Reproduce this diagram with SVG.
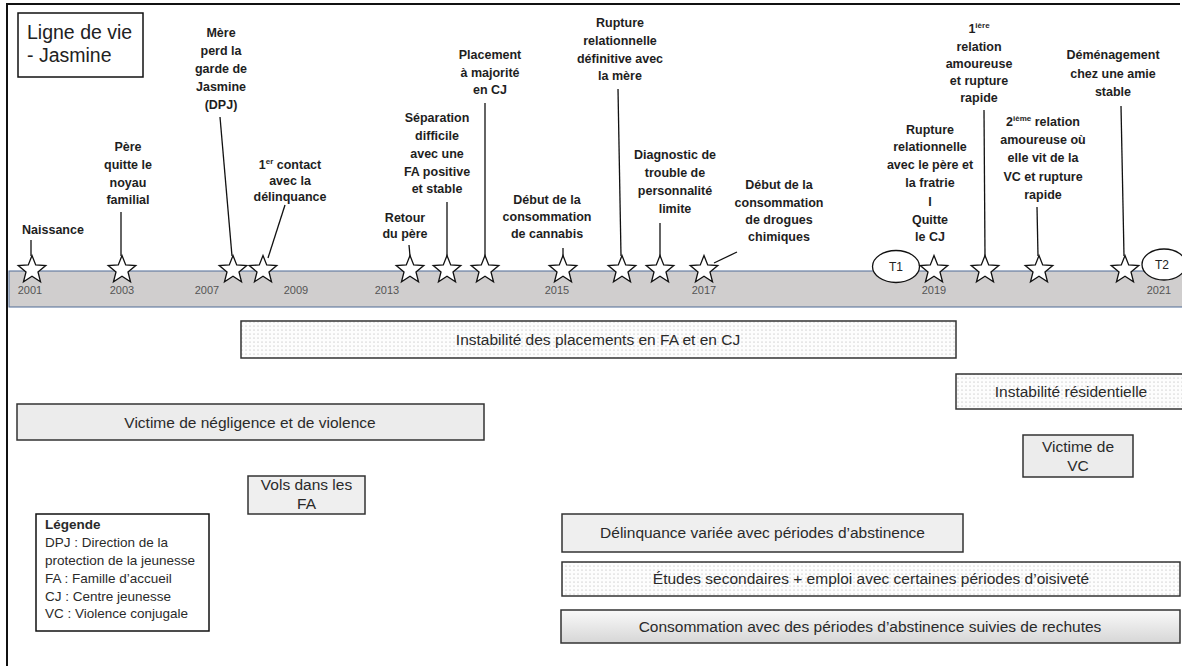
<svg xmlns="http://www.w3.org/2000/svg" width="1182" height="666" viewBox="0 0 1182 666">
<style>
.lbl{font-family:"Liberation Sans",Arial,sans-serif;font-weight:bold;font-size:12.5px;fill:#1e1e1e;text-anchor:middle}
.yr{font-family:"Liberation Sans",Arial,sans-serif;font-size:11px;fill:#555;text-anchor:middle}
.box{stroke:#333;stroke-width:1.5}
.bt{font-family:"Liberation Sans",Arial,sans-serif;font-size:15.5px;fill:#2a2a2a;text-anchor:middle}
.lg{font-family:"Liberation Sans",Arial,sans-serif;font-size:13.5px;fill:#2a2a2a}
.star{fill:#fff;stroke:#111;stroke-width:1.3;stroke-linejoin:miter}
.conn line{stroke:#111;stroke-width:1.3}
.sup{font-size:8px}
</style>
<defs>
<pattern id="dots" width="4" height="4" patternUnits="userSpaceOnUse">
<rect width="4" height="4" fill="#fdfdfd"/>
<circle cx="2" cy="2" r="0.55" fill="#a8a8a8"/>
</pattern>
<linearGradient id="grad" x1="0" y1="0" x2="0" y2="1">
<stop offset="0" stop-color="#fafafa"/>
<stop offset="1" stop-color="#d6d6d6"/>
</linearGradient>
<path id="star" d="M0,-14.5 L3.7,-5.1 L13.79,-4.48 L5.99,1.95 L8.52,11.73 L0,6.3 L-8.52,11.73 L-5.99,1.95 L-13.79,-4.48 L-3.7,-5.1 Z"/>
</defs>
<rect width="1182" height="666" fill="#fff"/>
<path d="M7,666 V4 H1180" fill="none" stroke="#111" stroke-width="2"/>

<g id="title">
<rect x="18" y="13" width="125" height="64" fill="#fff" stroke="#111" stroke-width="1.5"/>
<text x="27" y="39" font-family="Liberation Sans,Arial,sans-serif" font-size="19.5" fill="#222">Ligne de vie</text>
<text x="27" y="62" font-family="Liberation Sans,Arial,sans-serif" font-size="19.5" fill="#222">- Jasmine</text>
</g>

<g id="timeline">
<rect x="9" y="271" width="1180" height="36" fill="#d0cece" stroke="#4f6a95" stroke-width="1"/>
<text class="yr" x="30" y="294">2001</text>
<text class="yr" x="122" y="294">2003</text>
<text class="yr" x="207" y="294">2007</text>
<text class="yr" x="296" y="294">2009</text>
<text class="yr" x="387" y="294">2013</text>
<text class="yr" x="557" y="294">2015</text>
<text class="yr" x="704" y="294">2017</text>
<text class="yr" x="934" y="294">2019</text>
<text class="yr" x="1159" y="294">2021</text>
</g>

<g class="conn" id="connectors">
<line x1="31" y1="240" x2="31" y2="256"/>
<line x1="121" y1="212" x2="121" y2="256"/>
<line x1="220" y1="117" x2="232" y2="256"/>
<line x1="285" y1="205" x2="268" y2="258"/>
<line x1="409" y1="245" x2="410" y2="256"/>
<line x1="447" y1="202" x2="447" y2="256"/>
<line x1="485" y1="103" x2="485" y2="256"/>
<line x1="563" y1="248" x2="563" y2="256"/>
<line x1="618" y1="89" x2="621" y2="256"/>
<line x1="660" y1="223" x2="660" y2="256"/>
<line x1="737" y1="252" x2="714" y2="263"/>
<line x1="984" y1="110" x2="985" y2="256"/>
<line x1="1037" y1="207" x2="1038" y2="256"/>
<line x1="1121" y1="106" x2="1124" y2="256"/>
</g>

<g id="ev-naissance"><use href="#star" class="star" x="32" y="270"/>
<text class="lbl" x="53" y="234">Naissance</text></g>
<g id="ev-pere-quitte"><use href="#star" class="star" x="122" y="270"/>
<text class="lbl" x="128" y="151">Père</text><text class="lbl" x="128" y="169">quitte le</text><text class="lbl" x="128" y="187">noyau</text><text class="lbl" x="128" y="204">familial</text></g>
<g id="ev-mere-garde"><use href="#star" class="star" x="233" y="270"/>
<text class="lbl" x="221" y="37">Mère</text><text class="lbl" x="221" y="55">perd la</text><text class="lbl" x="221" y="73">garde de</text><text class="lbl" x="221" y="91">Jasmine</text><text class="lbl" x="221" y="109">(DPJ)</text></g>
<g id="ev-contact"><use href="#star" class="star" x="263" y="270"/>
<text class="lbl" x="290" y="169">1<tspan class="sup" dy="-5">er</tspan><tspan dy="5"> contact</tspan></text><text class="lbl" x="290" y="185">avec la</text><text class="lbl" x="290" y="201">délinquance</text></g>
<g id="ev-retour"><use href="#star" class="star" x="410" y="270"/>
<text class="lbl" x="405" y="222">Retour</text><text class="lbl" x="405" y="238">du père</text></g>
<g id="ev-separation"><use href="#star" class="star" x="447" y="270"/>
<text class="lbl" x="437" y="122">Séparation</text><text class="lbl" x="437" y="140">difficile</text><text class="lbl" x="437" y="158">avec une</text><text class="lbl" x="437" y="176">FA positive</text><text class="lbl" x="437" y="193">et stable</text></g>
<g id="ev-placement"><use href="#star" class="star" x="485" y="270"/>
<text class="lbl" x="490" y="59">Placement</text><text class="lbl" x="490" y="77">à majorité</text><text class="lbl" x="490" y="94">en CJ</text></g>
<g id="ev-cannabis"><use href="#star" class="star" x="563" y="270"/>
<text class="lbl" x="547" y="204">Début de la</text><text class="lbl" x="547" y="221">consommation</text><text class="lbl" x="547" y="238">de cannabis</text></g>
<g id="ev-rupture-mere"><use href="#star" class="star" x="622" y="270"/>
<text class="lbl" x="620" y="27">Rupture</text><text class="lbl" x="620" y="45">relationnelle</text><text class="lbl" x="620" y="63">définitive avec</text><text class="lbl" x="620" y="80">la mère</text></g>
<g id="ev-diagnostic"><use href="#star" class="star" x="660" y="270"/>
<text class="lbl" x="675" y="159">Diagnostic de</text><text class="lbl" x="675" y="177">trouble de</text><text class="lbl" x="675" y="195">personnalité</text><text class="lbl" x="675" y="213">limite</text></g>
<g id="ev-drogues"><use href="#star" class="star" x="704" y="270"/>
<text class="lbl" x="779" y="189">Début de la</text><text class="lbl" x="779" y="207">consommation</text><text class="lbl" x="779" y="224">de drogues</text><text class="lbl" x="779" y="241">chimiques</text></g>
<g id="t1"><ellipse cx="896" cy="266.5" rx="23.5" ry="16" fill="#fff" stroke="#111" stroke-width="1.3"/>
<text x="896" y="271" text-anchor="middle" font-family="Liberation Sans,Arial,sans-serif" font-size="12" fill="#222">T1</text></g>
<g id="ev-rupture-pere"><use href="#star" class="star" x="934" y="270"/>
<text class="lbl" x="930" y="134">Rupture</text><text class="lbl" x="930" y="151">relationnelle</text><text class="lbl" x="930" y="169">avec le père et</text><text class="lbl" x="930" y="187">la fratrie</text><text class="lbl" x="930" y="206">I</text><text class="lbl" x="930" y="224">Quitte</text><text class="lbl" x="930" y="241">le CJ</text></g>
<g id="ev-relation1"><use href="#star" class="star" x="985" y="270"/>
<text class="lbl" x="979" y="33">1<tspan class="sup" dy="-5">ière</tspan></text><text class="lbl" x="979" y="51">relation</text><text class="lbl" x="979" y="68">amoureuse</text><text class="lbl" x="979" y="85">et rupture</text><text class="lbl" x="979" y="102">rapide</text></g>
<g id="ev-relation2"><use href="#star" class="star" x="1039" y="270"/>
<text class="lbl" x="1043" y="126">2<tspan class="sup" dy="-5">ième</tspan><tspan dy="5"> relation</tspan></text><text class="lbl" x="1043" y="144">amoureuse où</text><text class="lbl" x="1043" y="162">elle vit de la</text><text class="lbl" x="1043" y="181">VC et rupture</text><text class="lbl" x="1043" y="199">rapide</text></g>
<g id="ev-demenagement"><use href="#star" class="star" x="1125" y="270"/>
<text class="lbl" x="1113" y="59">Déménagement</text><text class="lbl" x="1113" y="78">chez une amie</text><text class="lbl" x="1113" y="96">stable</text></g>
<g id="t2"><ellipse cx="1164" cy="264.5" rx="22" ry="15.5" fill="#fff" stroke="#111" stroke-width="1.3"/>
<text x="1162" y="269" text-anchor="middle" font-family="Liberation Sans,Arial,sans-serif" font-size="12" fill="#222">T2</text></g>

<g id="p-instab-placements"><rect class="box" x="241" y="321" width="715" height="37" fill="url(#dots)"/>
<text class="bt" x="598" y="345">Instabilité des placements en FA et en CJ</text></g>
<g id="p-instab-resid"><rect class="box" x="956" y="374" width="230" height="35" fill="url(#dots)"/>
<text class="bt" x="1071" y="397">Instabilité résidentielle</text></g>
<g id="p-victime-negligence"><rect class="box" x="17" y="404" width="467" height="36" fill="#ececec"/>
<text class="bt" x="250" y="428">Victime de négligence et de violence</text></g>
<g id="p-victime-vc"><rect class="box" x="1023" y="435" width="110" height="42" fill="#ececec"/>
<text class="bt" x="1078" y="452">Victime de</text><text class="bt" x="1078" y="471">VC</text></g>
<g id="p-vols"><rect class="box" x="248" y="476" width="117" height="38" fill="#efefef"/>
<text class="bt" x="306.5" y="490">Vols dans les</text><text class="bt" x="306.5" y="509">FA</text></g>
<g id="legend"><rect x="36" y="514" width="173" height="117" fill="#fff" stroke="#111" stroke-width="1.5"/>
<text class="lg" x="45" y="529" font-weight="bold">Légende</text>
<text class="lg" x="45" y="547">DPJ : Direction de la</text>
<text class="lg" x="45" y="565">protection de la jeunesse</text>
<text class="lg" x="45" y="583">FA : Famille d’accueil</text>
<text class="lg" x="45" y="601">CJ : Centre jeunesse</text>
<text class="lg" x="45" y="618">VC : Violence conjugale</text></g>
<g id="p-delinquance"><rect class="box" x="562" y="514" width="401" height="38" fill="#efefef"/>
<text class="bt" x="762.5" y="538">Délinquance variée avec périodes d’abstinence</text></g>
<g id="p-etudes"><rect class="box" x="562" y="562" width="618" height="34" fill="url(#dots)"/>
<text class="bt" x="871" y="584">Études secondaires + emploi avec certaines périodes d’oisiveté</text></g>
<g id="p-consommation"><rect class="box" x="561" y="610" width="619" height="33" fill="url(#grad)"/>
<text class="bt" x="870" y="632">Consommation avec des périodes d’abstinence suivies de rechutes</text></g>
</svg>
